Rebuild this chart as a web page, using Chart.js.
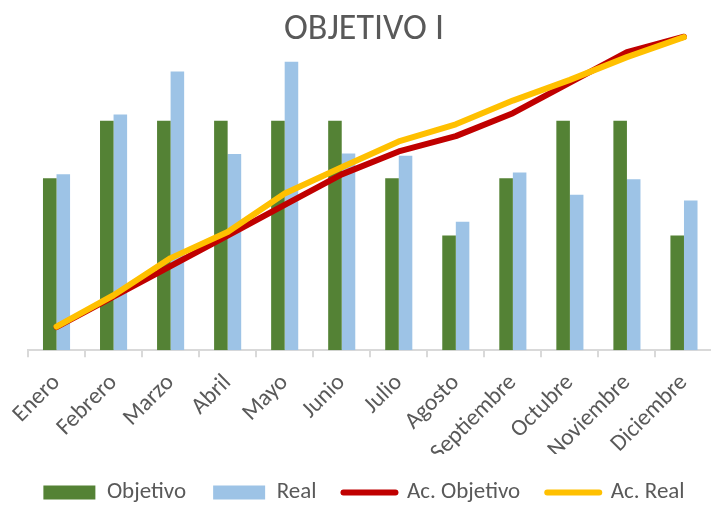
<!DOCTYPE html>
<html>
<head>
<meta charset="utf-8">
<script src="https://cdn.jsdelivr.net/npm/chart.js@4/dist/chart.umd.min.js"></script>
<style>
  html, body { margin: 0; padding: 0; background: #ffffff; overflow: hidden; }
  #wrap { position: relative; width: 716px; height: 505px; }
</style>
</head>
<body>
<div id="wrap"><canvas id="chart"></canvas></div>
<script>
// Monthly target vs. actual, with running totals
const months = ['Enero', 'Febrero', 'Marzo', 'Abril', 'Mayo', 'Junio', 'Julio',
                'Agosto', 'Septiembre', 'Octubre', 'Noviembre', 'Diciembre'];
const objetivo = [3, 4, 4, 4, 4, 4, 3, 2, 3, 4, 4, 2];
const real = [3.07, 4.11, 4.86, 3.42, 5.03, 3.43, 3.39, 2.24, 3.10, 2.71, 2.98, 2.61];
const acObjetivo = [3, 7, 11, 15, 19, 23, 26, 28, 31, 35, 39, 41];
const acReal = [3.07, 7.18, 12.04, 15.46, 20.49, 23.92, 27.31, 29.55, 32.65, 35.36, 38.34, 40.95];

const FONT = "Carlito, Calibri, Lato, sans-serif";
const TEXT = '#595959';

new Chart(document.getElementById('chart'), {
  data: {
    labels: months,
    datasets: [
      { type: 'bar', label: 'Objetivo', data: objetivo, backgroundColor: '#548235',
        yAxisID: 'y', order: 2, barPercentage: 1, categoryPercentage: 0.475 },
      { type: 'bar', label: 'Real', data: real, backgroundColor: '#9dc3e6',
        yAxisID: 'y', order: 2, barPercentage: 1, categoryPercentage: 0.475 },
      { type: 'line', label: 'Ac. Objetivo', data: acObjetivo, borderColor: '#c00000',
        backgroundColor: '#c00000', borderWidth: 6, pointRadius: 0, tension: 0,
        borderCapStyle: 'round', borderJoinStyle: 'round', yAxisID: 'y2', order: 1 },
      { type: 'line', label: 'Ac. Real', data: acReal, borderColor: '#ffc000',
        backgroundColor: '#ffc000', borderWidth: 6, pointRadius: 0, tension: 0,
        borderCapStyle: 'round', borderJoinStyle: 'round', yAxisID: 'y2', order: 0 }
    ]
  },
  options: {
    responsive: true,
    maintainAspectRatio: false,
    animation: false,
    layout: { padding: { left: 14, right: 2, top: 0, bottom: -9 } },
    scales: {
      x: {
        grid: { display: true, offset: true, drawOnChartArea: false, drawTicks: true,
                tickLength: 7, color: '#d9d9d9', lineWidth: 2 },
        border: { display: true, color: '#d9d9d9', width: 2 },
        ticks: { color: TEXT, font: { family: FONT, size: 23.5 }, minRotation: 45,
                 maxRotation: 45, autoSkip: false, padding: 12 },
        // let the rotated month names sit closer to the legend
        afterFit(scale) { scale.height -= 25; }
      },
      // value axis for the monthly bars (kept invisible, only reserves a gutter)
      y: { display: true, min: 0, max: 6,
           grid: { display: false }, border: { display: false }, ticks: { display: false },
           afterFit(scale) { scale.width = 14; } },
      y2: { display: false, min: 0, max: 45, position: 'right' }
    },
    plugins: {
      title: {
        display: true, text: 'OBJETIVO I', color: TEXT,
        font: { family: FONT, size: 36, weight: 'normal' },
        padding: { top: 8, bottom: -45 }
      },
      legend: {
        position: 'bottom',
        labels: {
          color: TEXT, font: { family: FONT, size: 23 },
          usePointStyle: true, pointStyleWidth: 52, boxHeight: 14, padding: 27,
          generateLabels(chart) {
            const items = Chart.defaults.plugins.legend.labels.generateLabels(chart);
            items.sort((a, b) => a.datasetIndex - b.datasetIndex);
            items.forEach((it) => {
              const ds = chart.data.datasets[it.datasetIndex];
              if (ds.type === 'line') {
                it.pointStyle = 'line'; it.lineWidth = 6; it.strokeStyle = ds.borderColor;
                it.lineCap = 'round';
              } else {
                it.pointStyle = 'rect'; it.lineWidth = 0; it.fillStyle = ds.backgroundColor;
              }
            });
            return items;
          }
        }
      },
      tooltip: { enabled: false }
    }
  }
});
</script>
</body>
</html>
